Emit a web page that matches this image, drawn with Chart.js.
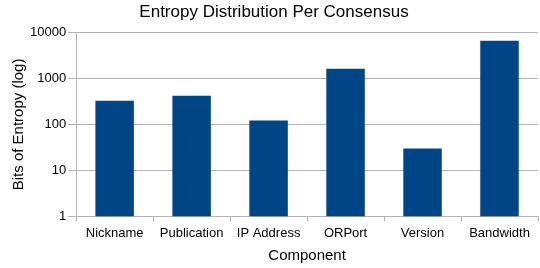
<!DOCTYPE html>
<html><head><meta charset="utf-8">
<script src="https://cdn.jsdelivr.net/npm/chart.js@4/dist/chart.umd.min.js"></script>
<style>html,body{margin:0;padding:0;background:#fff}#w{width:540px;height:268px}</style>
</head><body><div id="w"><canvas id="c"></canvas></div>
<script>
const categories = ["Nickname","Publication","IP Address","ORPort","Version","Bandwidth"];
const entropyBits = [328, 421, 121, 1620, 30, 6550];
const yTicks = [1, 10, 100, 1000, 10000];

const grid = '#b3b3b3';
const font = "'Liberation Sans', Arial, sans-serif";
new Chart(document.getElementById('c'), {
  type: 'bar',
  data: { labels: categories, datasets: [{ data: entropyBits, backgroundColor: '#004586', barPercentage: 0.5, categoryPercentage: 1 }] },
  options: {
    responsive: true, maintainAspectRatio: false, animation: false,
    layout: { padding: { left: 10, right: 2, top: 0, bottom: 3 } },
    plugins: {
      legend: { display: false }, tooltip: { enabled: false },
      title: { display: true, text: 'Entropy Distribution Per Consensus', color: '#000',
        font: { family: font, size: 17, weight: 'normal' }, padding: { top: 2, bottom: 10 } }
    },
    scales: {
      x: {
        grid: { offset: true, drawOnChartArea: true, tickLength: 5, tickColor: grid,
          color: c => (c.index === 0 || c.index === categories.length) ? grid : 'rgba(0,0,0,0)' },
        border: { color: grid },
        ticks: { color: '#000', font: { family: font, size: 13 }, padding: 4, maxRotation: 0 },
        title: { display: true, text: 'Component', color: '#000', font: { family: font, size: 15 }, padding: { top: 2, bottom: 0 } }
      },
      y: {
        type: 'logarithmic', min: 1, max: 10000,
        afterBuildTicks: s => { s.ticks = yTicks.map(v => ({ value: v })); },
        grid: { color: grid, tickLength: 8, tickColor: grid },
        border: { color: grid },
        ticks: { color: '#000', font: { family: font, size: 13 }, padding: 2, callback: v => String(v) },
        title: { display: true, text: 'Bits of Entropy (log)', color: '#000', font: { family: font, size: 15 }, padding: { top: 0, bottom: 0 } }
      }
    }
  }
});
</script></body></html>
